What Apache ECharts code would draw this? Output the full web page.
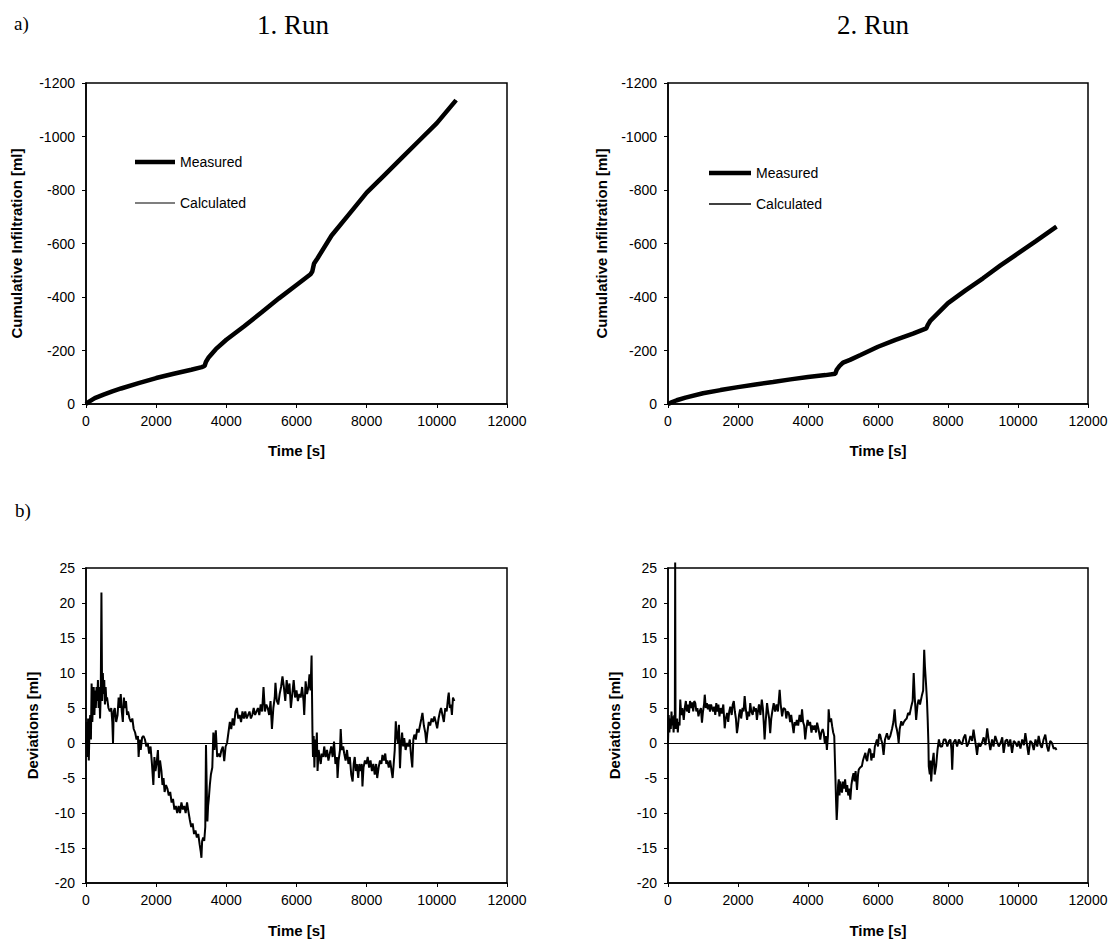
<!DOCTYPE html>
<html>
<head>
<meta charset="utf-8">
<script src="https://cdn.jsdelivr.net/npm/echarts@6/dist/echarts.min.js"></script>
<style>
html,body{margin:0;padding:0;background:#fff;}
#main{width:1113px;height:945px;}
</style>
</head>
<body>
<div id="main"></div>
<script>
// ---------- Data ----------
const xTicks = [0, 2000, 4000, 6000, 8000, 10000, 12000];

// Run 1 cumulative infiltration
const run1Time = [0,100,250,500,750,1000,1500,2000,2500,3000,3300,3380,3420,3500,3700,4000,4500,5000,5500,6000,6400,6450,6500,6600,7000,7500,8000,8500,9000,9500,10000,10550];
const run1Measured = [0,-10,-22,-35,-47,-58,-78,-97,-113,-128,-138,-142,-158,-175,-205,-240,-290,-342,-395,-445,-485,-495,-525,-545,-630,-710,-790,-855,-920,-985,-1050,-1136];
const run1CalcTime = [0,250,500,1000,2000,3000,3380,3500,4000,5000,6000,6450,6600,7000,8000,9000,10000,10550];
const run1Calculated = [0,-20,-34,-57,-96,-127,-141,-173,-238,-341,-444,-494,-543,-628,-788,-919,-1049,-1135];

// Run 2 cumulative infiltration
const run2Time = [0,100,250,500,1000,1500,2000,2500,3000,3500,4000,4500,4780,4820,4900,5000,5200,5500,6000,6500,7000,7380,7420,7500,7600,8000,8500,9000,9500,10000,10500,11100];
const run2Measured = [0,-6,-14,-24,-40,-52,-63,-73,-82,-92,-101,-108,-113,-128,-142,-155,-165,-183,-214,-240,-263,-283,-295,-312,-325,-377,-425,-470,-518,-563,-608,-663];
const run2CalcTime = [0,500,1000,2000,3000,4000,4780,4900,5500,6000,7000,7380,7600,8000,9000,10000,11100];
const run2Calculated = [0,-23,-39,-62,-81,-100,-112,-141,-182,-213,-262,-282,-324,-376,-469,-562,-662];

// Deviations run 1: [time, deviation]
const dev1 = [[0,0],[20,3],[40,-2],[60,3.5],[80,-2.5],[100,2],[120,4],[140,0.5],[160,8.5],[180,3],[200,6],[220,8],[240,4],[260,7.5],[280,5],[300,8],[320,6],[340,9],[360,5],[380,8],[400,3.5],[420,7],[440,21.5],[460,6],[480,10],[500,7],[520,9],[540,5.5],[560,8],[580,6],[600,6.5],[640,5],[680,4.5],[720,5],[750,3],[770,0],[790,4.5],[820,5],[860,3],[900,4],[930,6.5],[960,5],[990,7],[1020,4.5],[1050,3],[1080,6.5],[1110,5],[1140,6],[1170,4],[1200,4.5],[1240,3.5],[1280,3],[1320,3.5],[1360,2],[1400,1.5],[1440,0.5],[1480,1],[1500,-2],[1530,0.5],[1560,-1],[1600,0.8],[1640,1],[1680,0.5],[1720,-0.5],[1760,0],[1800,-1.5],[1840,-0.5],[1880,-3],[1920,-6],[1950,-2],[1980,-4],[2010,-3],[2050,-1],[2080,-5],[2110,-2.5],[2150,-4],[2180,-6],[2210,-5],[2240,-7],[2280,-6],[2320,-6.5],[2360,-7.5],[2400,-7],[2440,-8.5],[2480,-8],[2520,-9.5],[2560,-9],[2600,-10],[2640,-9],[2680,-10],[2720,-8.5],[2760,-9.5],[2800,-9],[2840,-10],[2880,-8.5],[2920,-9.8],[2960,-11],[3000,-12],[3040,-11.5],[3080,-13],[3120,-12.5],[3160,-13.5],[3200,-13],[3240,-14.5],[3270,-15.5],[3290,-16.4],[3310,-14],[3340,-13.5],[3370,-14],[3400,-12],[3420,-0.3],[3440,-6],[3460,-11.2],[3480,-9],[3500,-8],[3530,-6],[3560,-4.5],[3600,-3.5],[3630,1.5],[3660,-1],[3700,1.8],[3740,-2],[3780,-1.5],[3820,-2],[3860,-1],[3900,-0.5],[3940,-2.6],[3980,-0.5],[4020,0],[4060,1.5],[4100,3],[4140,2],[4180,3.5],[4220,2.5],[4260,4.5],[4300,5],[4340,3.5],[4380,4],[4420,3],[4460,4.5],[4500,3.5],[4540,4.5],[4580,3.5],[4620,4],[4660,4.5],[4700,3.5],[4740,4],[4780,5],[4820,4],[4860,4.5],[4900,5],[4940,4],[4980,5.5],[5020,4.5],[5060,8],[5100,4.5],[5140,5.5],[5180,5],[5220,4],[5260,6],[5300,2],[5340,5],[5380,6.5],[5400,8.6],[5440,6],[5480,5.5],[5520,7],[5560,8],[5600,9.5],[5640,8],[5680,6],[5720,9],[5760,7],[5800,8.5],[5840,5],[5880,7],[5920,9],[5960,6.5],[6000,7.5],[6040,6],[6080,7],[6120,6.5],[6160,8],[6200,6],[6220,4],[6260,8.8],[6300,7],[6340,8],[6370,9.8],[6400,7.5],[6430,12.5],[6440,8],[6455,1.5],[6470,-2],[6490,1],[6510,-3.5],[6530,0.5],[6550,-2],[6580,1.5],[6600,-4],[6630,-1],[6660,-2],[6690,-3],[6720,-1.5],[6760,-2],[6790,-0.5],[6830,-2],[6870,-1],[6910,-2.5],[6950,-1.5],[6990,-0.5],[7030,-2],[7070,0.2],[7110,-3],[7150,-2],[7170,-5],[7200,-2.5],[7240,-1],[7260,2],[7290,-1],[7330,-0.5],[7360,-1.5],[7400,-2.5],[7440,-1],[7480,-3],[7520,-2],[7560,-4.5],[7600,-5.5],[7630,-3],[7660,-2],[7690,-4],[7720,-3],[7760,-5],[7790,-3],[7820,-4],[7860,-3],[7880,-6.2],[7910,-3.5],[7950,-2.5],[7990,-3],[8030,-2],[8070,-3.5],[8110,-2.5],[8150,-4],[8190,-3],[8230,-4.5],[8270,-3],[8300,-5],[8340,-3.5],[8380,-2.5],[8420,-3],[8450,-1.7],[8490,-2.5],[8530,-1.5],[8560,-3],[8590,-2.5],[8630,-3.5],[8670,-2.5],[8710,-4],[8740,-5],[8770,-3],[8800,-1],[8830,3.1],[8860,1],[8890,0],[8920,2.6],[8950,-3.6],[8980,0],[9010,1.5],[9040,-0.5],[9070,0.7],[9110,-1],[9150,0],[9190,-0.5],[9230,0.5],[9260,-1.5],[9300,-3.5],[9330,0.5],[9360,1.2],[9400,0.5],[9440,2],[9480,1.5],[9520,2.5],[9560,3.5],[9590,4.3],[9630,2.5],[9670,1.5],[9700,0],[9730,1.5],[9770,3],[9810,2.5],[9850,3.5],[9890,3],[9930,3.8],[9970,3],[10010,2.1],[10050,3.5],[10090,4.5],[10120,5],[10160,4],[10200,3],[10240,5],[10280,4.5],[10320,6.5],[10340,7.2],[10370,5],[10400,5.5],[10430,4],[10460,6.5],[10500,6]];

// Deviations run 2: [time, deviation]
const dev2 = [[0,0],[20,4],[40,1.5],[60,3.5],[80,2],[100,4.5],[120,2.5],[140,3.8],[160,1.5],[180,4],[195,2],[205,25.8],[215,3],[240,2],[260,3.5],[280,1.5],[300,3],[330,2.5],[350,6.2],[380,4],[410,5],[450,3.3],[480,5],[510,6],[540,4.5],[570,5.5],[600,4.3],[630,6],[660,5],[690,5.8],[720,4.5],[750,6],[780,5.7],[810,4.5],[840,5],[870,3.8],[900,4.5],[940,5],[970,2.9],[1000,4.5],[1030,5.5],[1050,6.9],[1080,5],[1110,5.7],[1140,4.8],[1170,5.5],[1200,4.5],[1230,5.5],[1260,5],[1290,4.5],[1320,5.2],[1350,4],[1380,5.7],[1410,4.5],[1440,5.5],[1470,3.8],[1500,5],[1540,4.2],[1580,5.5],[1620,2.1],[1650,3.5],[1690,4.3],[1720,3],[1750,4.5],[1780,5.2],[1820,4],[1850,5.5],[1880,6],[1910,4.5],[1940,3.5],[1970,1.4],[2000,2.5],[2030,4],[2060,4.8],[2090,3.5],[2130,5],[2160,4.5],[2190,6.7],[2220,5],[2260,3.3],[2290,4.5],[2320,3.8],[2350,5.7],[2380,4.5],[2420,4],[2450,5.2],[2480,4.5],[2510,5],[2540,3.3],[2570,4.5],[2600,5.5],[2640,4],[2680,6.2],[2710,5],[2740,2.5],[2760,0.5],[2790,3],[2830,5.7],[2860,4.5],[2890,3.5],[2920,1.4],[2950,3.5],[2980,4.5],[3020,5.7],[3060,4.5],[3100,5.5],[3140,4.5],[3190,7.6],[3220,5.5],[3260,3.8],[3300,5],[3350,4.8],[3380,3.5],[3410,4.5],[3450,4.3],[3490,3],[3520,4],[3560,2.5],[3590,1.4],[3620,3],[3650,2.5],[3680,3.3],[3720,2.5],[3760,4],[3800,3],[3830,4.8],[3860,3],[3890,2.5],[3920,0.5],[3950,2],[3990,3.3],[4020,2.5],[4060,3],[4100,1.5],[4130,2.5],[4160,1.9],[4200,2.5],[4230,1.5],[4260,2.9],[4300,2],[4350,0.5],[4380,1.5],[4420,2],[4450,1.4],[4480,0],[4510,1],[4540,-1],[4570,1],[4590,4.8],[4620,3],[4660,3.5],[4690,2.4],[4720,1.5],[4750,1],[4780,-4.3],[4800,-8],[4820,-11],[4840,-9],[4860,-6],[4880,-5.2],[4900,-7.5],[4920,-5.5],[4950,-6.5],[4970,-7.1],[5000,-5.5],[5030,-6.5],[5060,-5.2],[5090,-7],[5120,-6],[5150,-7.5],[5180,-6.5],[5210,-8.1],[5240,-6],[5270,-5],[5300,-4.3],[5330,-5.5],[5360,-4],[5400,-6.7],[5430,-4.5],[5450,-3.8],[5490,-3.5],[5540,-3.3],[5570,-2.5],[5600,-2],[5640,-1.4],[5660,-2.2],[5690,-2.6],[5720,-1.5],[5750,-0.8],[5780,-1],[5810,-2.5],[5840,-1.5],[5880,-2.1],[5910,-0.5],[5940,0],[5970,0.5],[6000,-0.5],[6030,1.2],[6060,1.2],[6090,0.5],[6120,0],[6160,-1.7],[6200,0.5],[6255,1.4],[6300,0.5],[6350,1],[6400,2],[6440,3],[6475,4.8],[6510,2.5],[6540,1.9],[6570,1],[6590,0],[6620,2],[6665,3.1],[6700,2.5],[6740,3],[6780,3.3],[6820,3.5],[6860,4.3],[6900,4],[6950,5.2],[6990,6],[7020,10],[7050,6.5],[7090,3.3],[7130,5.5],[7160,6.2],[7200,5.5],[7250,6.7],[7290,7.5],[7320,13.3],[7340,11],[7370,8.6],[7400,6],[7420,3.3],[7440,0],[7450,-3.3],[7480,-4.5],[7500,-2.5],[7520,-5.5],[7550,-3],[7590,-1.4],[7620,-4.5],[7660,-3.3],[7700,-1],[7740,0.5],[7780,-0.5],[7830,-0.5],[7880,0.5],[7930,0.5],[7980,-0.5],[8030,0.3],[8070,0.5],[8100,-1],[8120,-3.8],[8150,0],[8210,0.5],[8260,-0.5],[8310,0.5],[8360,0],[8400,-0.2],[8450,0.8],[8495,1.2],[8540,-0.5],[8590,0],[8640,1],[8690,0.3],[8730,1.9],[8770,0.5],[8800,-0.5],[8830,-1.7],[8870,0],[8920,-0.5],[8970,0],[9020,0.8],[9070,-0.3],[9120,2.1],[9160,0.5],[9210,-1],[9260,0.5],[9300,-0.5],[9350,1],[9400,0.2],[9450,-0.5],[9500,0],[9550,0.8],[9590,-1.4],[9640,0.3],[9690,0.5],[9730,-0.5],[9780,0.5],[9830,-1.4],[9880,0.3],[9930,0],[9980,-0.5],[10020,0.3],[10070,-0.8],[10120,0.5],[10170,-0.3],[10210,1.4],[10250,0],[10300,-1.7],[10350,0.3],[10400,0],[10450,-1],[10500,0.5],[10550,-0.5],[10590,1],[10640,-0.3],[10680,-0.7],[10730,0.5],[10780,1.2],[10830,-0.5],[10870,-1.2],[10920,0.3],[10970,0],[11020,-0.8],[11070,-0.7],[11100,-1]];

// ---------- Chart ----------
const pair = (ts, vs) => ts.map((t, i) => [t, vs[i]]);
const FONT = 'Liberation Sans, Arial, sans-serif';
const SERIF = 'Liberation Serif, Times New Roman, serif';
const BLACK = '#000';
const ICON_THICK = 'path://M0,0 L40,0 L40,4.5 L0,4.5 Z';
const ICON_THIN = 'path://M0,0 L40,0 L40,1.2 L0,1.2 Z';

const grids = [
  {left: 86, top: 83, width: 421, height: 321},
  {left: 668, top: 83, width: 420, height: 321},
  {left: 86, top: 568, width: 421, height: 315},
  {left: 668, top: 568, width: 420, height: 315}
].map(g => Object.assign({show: true, borderColor: BLACK, borderWidth: 1.5, backgroundColor: 'transparent'}, g));

function xAxisCfg(i, gap) {
  return {
    type: 'value', gridIndex: i, min: xTicks[0], max: xTicks[xTicks.length - 1], interval: 2000,
    name: 'Time [s]', nameLocation: 'middle', nameGap: gap,
    nameTextStyle: {color: BLACK, fontFamily: FONT, fontSize: 15, fontWeight: 'bold'},
    axisLine: {onZero: false, lineStyle: {color: BLACK, width: 1.5}},
    axisTick: {show: true, inside: false, length: 4, lineStyle: {color: BLACK, width: 1}},
    axisLabel: {color: BLACK, fontFamily: FONT, fontSize: 14, margin: 10, formatter: v => String(v)},
    splitLine: {show: false}
  };
}
function yAxisCfg(i, top, gap) {
  const base = {
    type: 'value', gridIndex: i, nameLocation: 'middle', nameGap: gap,
    nameTextStyle: {color: BLACK, fontFamily: FONT, fontSize: 15, fontWeight: 'bold'},
    axisLine: {onZero: false, lineStyle: {color: BLACK, width: 1.5}},
    axisTick: {show: true, inside: false, length: 4, lineStyle: {color: BLACK, width: 1}},
    axisLabel: {color: BLACK, fontFamily: FONT, fontSize: 14, margin: 11, formatter: v => String(v)},
    splitLine: {show: false}
  };
  if (top) {
    return Object.assign(base, {min: -1200, max: 0, interval: 200, inverse: true, name: 'Cumulative Infiltration [ml]'});
  }
  return Object.assign(base, {min: -20, max: 25, interval: 5, name: 'Deviations [ml]'});
}

const zeroLine = {
  silent: true, symbol: 'none', animation: false,
  label: {show: false},
  lineStyle: {color: BLACK, width: 1, type: 'solid'},
  data: [{yAxis: 0}]
};

const legendItems = [{name: 'Measured', icon: ICON_THICK}, {name: 'Calculated', icon: ICON_THIN}];

const option = {
  animation: false,
  backgroundColor: '#fff',
  textStyle: {fontFamily: FONT},
  grid: grids,
  xAxis: [xAxisCfg(0, 39), xAxisCfg(1, 39), xAxisCfg(2, 40), xAxisCfg(3, 40)],
  yAxis: [yAxisCfg(0, true, 62), yAxisCfg(1, true, 59), yAxisCfg(2, false, 46), yAxisCfg(3, false, 46)],
  legend: [
    {left: 135, top: 155, padding: 0, orient: 'vertical', itemGap: 27, itemWidth: 40, itemHeight: 14,
     itemStyle: {color: BLACK}, textStyle: {color: BLACK, fontFamily: FONT, fontSize: 14}, data: legendItems, selectedMode: false},
    {left: 709, top: 166, padding: 0, orient: 'vertical', itemGap: 17, itemWidth: 42, itemHeight: 14,
     itemStyle: {color: BLACK}, textStyle: {color: BLACK, fontFamily: FONT, fontSize: 14}, data: legendItems, selectedMode: false}
  ],
  graphic: [
    {type: 'text', left: 14, top: 14, style: {text: 'a)', font: '19px ' + SERIF, fill: BLACK}},
    {type: 'text', x: 293, y: 25, style: {text: '1. Run', font: '27px ' + SERIF, fill: BLACK, textAlign: 'center', textVerticalAlign: 'middle'}},
    {type: 'text', x: 873, y: 25, style: {text: '2. Run', font: '27px ' + SERIF, fill: BLACK, textAlign: 'center', textVerticalAlign: 'middle'}},
    {type: 'text', left: 15, top: 501, style: {text: 'b)', font: '19px ' + SERIF, fill: BLACK}}
  ],
  series: [
    {name: 'Measured', type: 'line', xAxisIndex: 0, yAxisIndex: 0, symbol: 'none', data: pair(run1Time, run1Measured),
     lineStyle: {color: BLACK, width: 4.5}, itemStyle: {color: BLACK}},
    {name: 'Calculated', type: 'line', xAxisIndex: 0, yAxisIndex: 0, symbol: 'none', data: pair(run1CalcTime, run1Calculated),
     lineStyle: {color: BLACK, width: 1}, itemStyle: {color: BLACK}},
    {name: 'Measured', type: 'line', xAxisIndex: 1, yAxisIndex: 1, symbol: 'none', data: pair(run2Time, run2Measured),
     lineStyle: {color: BLACK, width: 4.5}, itemStyle: {color: BLACK}},
    {name: 'Calculated', type: 'line', xAxisIndex: 1, yAxisIndex: 1, symbol: 'none', data: pair(run2CalcTime, run2Calculated),
     lineStyle: {color: BLACK, width: 1}, itemStyle: {color: BLACK}},
    {name: 'Deviations 1', type: 'line', xAxisIndex: 2, yAxisIndex: 2, symbol: 'none', data: dev1,
     lineStyle: {color: BLACK, width: 2}, itemStyle: {color: BLACK}, markLine: zeroLine},
    {name: 'Deviations 2', type: 'line', xAxisIndex: 3, yAxisIndex: 3, symbol: 'none', data: dev2, clip: false,
     lineStyle: {color: BLACK, width: 2}, itemStyle: {color: BLACK}, markLine: zeroLine}
  ]
};

const chart = echarts.init(document.getElementById('main'), null, {renderer: 'svg'});
chart.setOption(option);
</script>
</body>
</html>
